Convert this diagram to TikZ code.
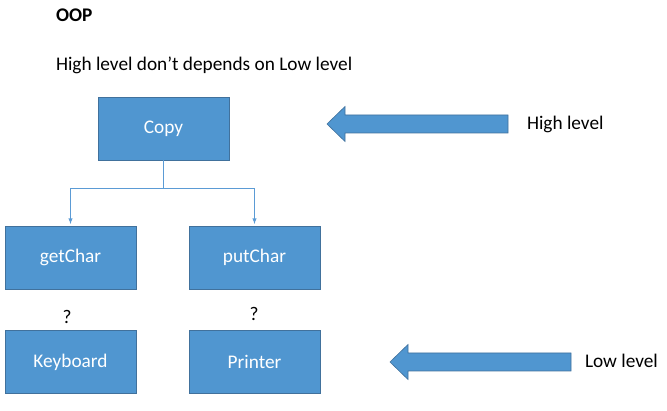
\documentclass[tikz,border=0pt]{standalone}
\usepackage{fontspec}
\setmainfont{Carlito}
\usepackage{tikz}

\definecolor{boxfill}{HTML}{5096D0}
\definecolor{boxline}{HTML}{41719C}
\definecolor{linkcol}{HTML}{5B9BD5}

\begin{document}
\begin{tikzpicture}[x=1pt, y=-1pt, >=latex,
     font=\fontsize{19.3}{23}\selectfont,
     every node/.style = {outer sep = 0pt, inner sep = 0pt},
     block/.style = {draw=boxline, fill=boxfill, line width=0.9pt,
        text=white, minimum width=131pt, minimum height=63pt},
     note/.style = {anchor=west, text=black},
     link/.style = {->, draw=linkcol, line width=0.9pt, shorten >=2pt},
     bigarrow/.style = {draw=boxline, fill=boxfill, line width=0.6pt}]
        \useasboundingbox (0,0) rectangle (667,411);
        % titles
        \node [note, font=\fontsize{19.3}{23}\selectfont\bfseries]
            at (56,15)  (title) {OOP};
        \node [note] at (56,65) (claim)
            {High level don’t depends on Low level};
        % boxes
        \node [block] at (163.5,128.5) (copy) {Copy};
        \node [block] at (70.5,257.5)  (getc) {getChar};
        \node [block] at (254.5,257.5) (putc) {putChar};
        \node [block] at (70.5,362)    (kbd)  {Keyboard};
        \node [block] at (254.5,362)   (prn)  {Printer};
        \node [text=black] at (67,317)  (q1) {?};
        \node [text=black] at (254,314) (q2) {?};
        % calls
        \coordinate (fork) at (163.5,188);
        \draw [link] (copy.south) -- (fork) -| (getc.north);
        \draw [link] (fork) -| (putc.north);
        % level arrows
        \filldraw [bigarrow] (327,124) -- (345,106.5) -- (345,115)
            -- (508,115) -- (508,133) -- (345,133) -- (345,141.5) -- cycle;
        \filldraw [bigarrow] (390,362) -- (408,344.5) -- (408,353)
            -- (571,353) -- (571,371) -- (408,371) -- (408,379.5) -- cycle;
        \node [note] at (527,124) (hi) {High level};
        \node [note] at (585,361) (lo) {Low level};
\end{tikzpicture}
\end{document}
